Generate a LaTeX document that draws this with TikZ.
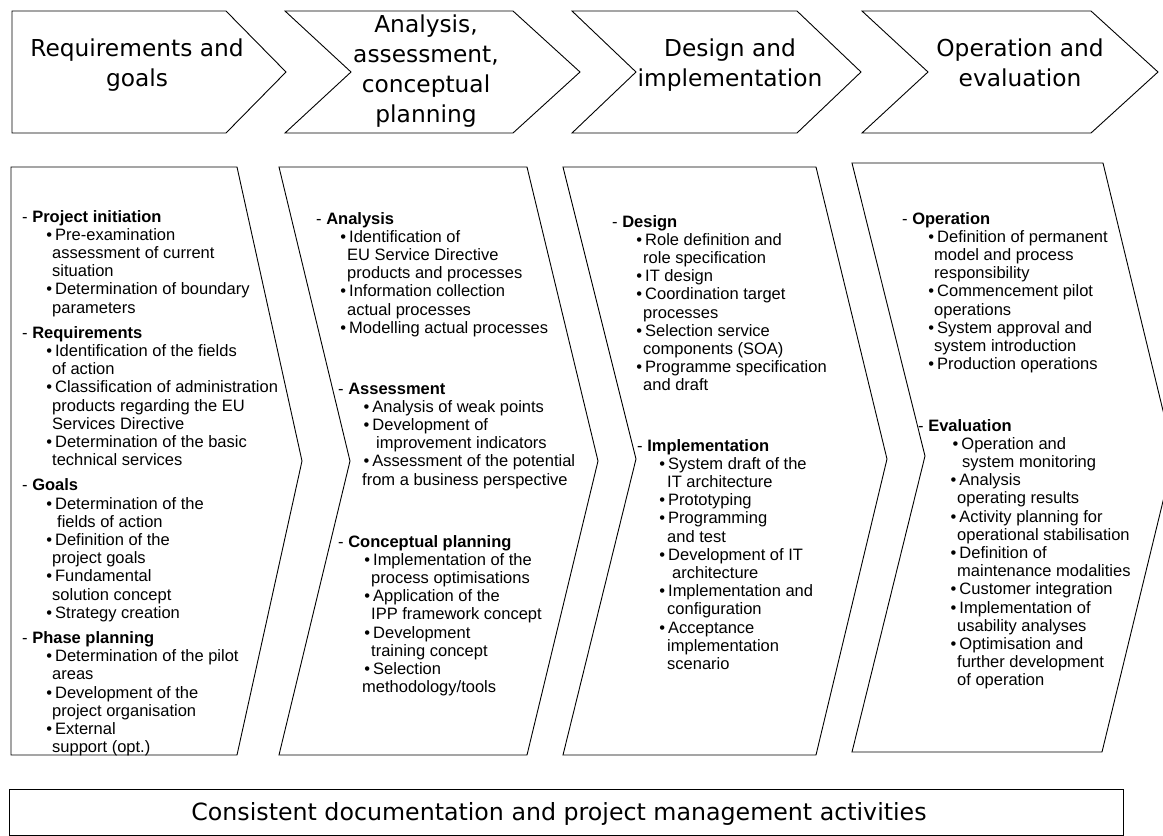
\documentclass[tikz,border=0pt]{standalone}
\usepackage{fontspec}
\setmainfont{Liberation Sans}
\newfontfamily\headfont{DejaVu Sans}

% indents of bullet lines and continuation lines inside a section
\newlength\bind
\newlength\cind
\newcommand\Hd[1]{\hbox{-\ \textbf{#1}}}
\newcommand\Bu[2][0pt]{\hbox{\hspace*{\dimexpr\bind+#1-1.5pt\relax}\textbullet\hspace{3pt}#2}}
\newcommand\Co[2][0pt]{\hbox{\hspace*{\dimexpr\cind+#1\relax}#2}}
\newcommand\Gap{\vskip7pt}
% centred line for phase titles
\newcommand\CL[1]{\hbox to 0pt{\hss#1\hss}}

\tikzset{
  outline/.style={draw=black, line width=0.9pt, line join=miter},
  title/.style={anchor=base, inner sep=0pt, font=\headfont\fontsize{23.3}{30}\selectfont},
  sect/.style={anchor=base west, inner sep=0pt, font=\fontsize{16.5}{18.2}\selectfont},
}

\begin{document}
\begin{tikzpicture}[x=1pt,y=-1pt]
\useasboundingbox (0,0) rectangle (1163,836);
\fill[white] (0,0) rectangle (1163,836);

% ---------- phase chevrons ----------
\draw[outline] (12,11) -- (226,11) -- (286,72) -- (226,133) -- (12,133) -- cycle;
\draw[outline] (285,11) -- (513,11) -- (580,72) -- (513,133) -- (285,133) -- (351,72) -- cycle;
\draw[outline] (572,11) -- (797,11) -- (861,72) -- (797,133) -- (572,133) -- (636,72) -- cycle;
\draw[outline] (862,11) -- (1091,11) -- (1158,72) -- (1091,133) -- (862,133) -- (928,72) -- cycle;

\node[title] (t1) at (137,56) {\vtop{\CL{Requirements and}\CL{goals}}};
\node[title] (t2) at (426,32) {\vtop{\CL{Analysis,}\CL{assessment,}\CL{conceptual}\CL{planning}}};
\node[title] (t3) at (730,56) {\vtop{\CL{Design and}\CL{implementation}}};
\node[title] (t4) at (1020,56) {\vtop{\CL{Operation and}\CL{evaluation}}};

% ---------- activity panels ----------
\draw[outline] (11,167) -- (237,167) -- (302,461) -- (237,755) -- (11,755) -- cycle;
\draw[outline] (279,167) -- (527,167) -- (598,461) -- (527,755) -- (279,755) -- (350,461) -- cycle;
\draw[outline] (563,167) -- (816,167) -- (887,459) -- (816,755) -- (563,755) -- (636,459) -- cycle;
\draw[outline] (852,163) -- (1103,163) -- (1174,456) -- (1102,752) -- (852,752) -- (925,456) -- cycle;

% requirements and goals
\node[sect] (p1) at (22,222) {\setlength\bind{25.7pt}\setlength\cind{30pt}\vtop{%
  \Hd{Project initiation}
  \Bu{Pre-examination}
  \Co{assessment of current}
  \Co{situation}
  \Bu{Determination of boundary}
  \Co{parameters}
  \Gap\Hd{Requirements}
  \Bu{Identification of the fields}
  \Co{of action}
  \Bu{Classification of administration}
  \Co{products regarding the EU}
  \Co{Services Directive}
  \Bu{Determination of the basic}
  \Co{technical services}
  \Gap\Hd{Goals}
  \Bu{Determination of the}
  \Co[5pt]{fields of action}
  \Bu{Definition of the}
  \Co{project goals}
  \Bu{Fundamental}
  \Co{solution concept}
  \Bu{Strategy creation}
  \Gap\Hd{Phase planning}
  \Bu{Determination of the pilot}
  \Co{areas}
  \Bu{Development of the}
  \Co{project organisation}
  \Bu{External}
  \Co{support (opt.)}}};

% analysis, assessment, conceptual planning
\node[sect] (p2a) at (316,224) {\setlength\bind{25.7pt}\setlength\cind{31pt}\vtop{%
  \Hd{Analysis}
  \Bu{Identification of}
  \Co{EU Service Directive}
  \Co{products and processes}
  \Bu{Information collection}
  \Co{actual processes}
  \Bu{Modelling actual processes}}};

\node[sect] (p2b) at (338,394) {\setlength\bind{27pt}\setlength\cind{33pt}\vtop{%
  \Hd{Assessment}
  \Bu{Analysis of weak points}
  \Bu{Development of}
  \Co[5pt]{improvement indicators}
  \Bu{Assessment of the potential}
  \Co[-9pt]{from a business perspective}}};

\node[sect] (p2c) at (338,547) {\setlength\bind{27.7pt}\setlength\cind{33pt}\vtop{%
  \Hd{Conceptual planning}
  \Bu{Implementation of the}
  \Co{process optimisations}
  \Bu{Application of the}
  \Co{IPP framework concept}
  \Bu{Development}
  \Co{training concept}
  \Bu{Selection}
  \Co[-9pt]{methodology/tools}}};

% design and implementation
\node[sect] (p3a) at (612,227) {\setlength\bind{25.7pt}\setlength\cind{31pt}\vtop{%
  \Hd{Design}
  \Bu{Role definition and}
  \Co{role specification}
  \Bu{IT design}
  \Bu{Coordination target}
  \Co{processes}
  \Bu{Selection service}
  \Co{components (SOA)}
  \Bu{Programme specification}
  \Co{and draft}}};

\node[sect] (p3b) at (637,451) {\setlength\bind{23.7pt}\setlength\cind{30pt}\vtop{%
  \Hd{Implementation}
  \Bu{System draft of the}
  \Co{IT architecture}
  \Bu{Prototyping}
  \Bu{Programming}
  \Co{and test}
  \Bu{Development of IT}
  \Co[5pt]{architecture}
  \Bu{Implementation and}
  \Co{configuration}
  \Bu{Acceptance}
  \Co{implementation}
  \Co{scenario}}};

% operation and evaluation
\node[sect] (p4a) at (902,224) {\setlength\bind{27.7pt}\setlength\cind{32pt}\vtop{%
  \Hd{Operation}
  \Bu{Definition of permanent}
  \Co{model and process}
  \Co{responsibility}
  \Bu{Commencement pilot}
  \Co{operations}
  \Bu{System approval and}
  \Co{system introduction}
  \Bu{Production operations}}};

\node[sect] (p4b) at (918,431) {\setlength\bind{34pt}\setlength\cind{39pt}\vtop{%
  \Hd{Evaluation}
  \Bu[2pt]{Operation and}
  \Co[5pt]{system monitoring}
  \Bu{Analysis}
  \Co{operating results}
  \Bu{Activity planning for}
  \Co{operational stabilisation}
  \Bu{Definition of}
  \Co{maintenance modalities}
  \Bu{Customer integration}
  \Bu{Implementation of}
  \Co{usability analyses}
  \Bu{Optimisation and}
  \Co{further development}
  \Co{of operation}}};

% ---------- overarching activities ----------
\draw[outline] (9,789) rectangle (1123,835);
\node[title, font=\headfont\fontsize{23.7}{28}\selectfont] (bar) at (559,820) {Consistent documentation and project management activities};
\end{tikzpicture}
\end{document}
